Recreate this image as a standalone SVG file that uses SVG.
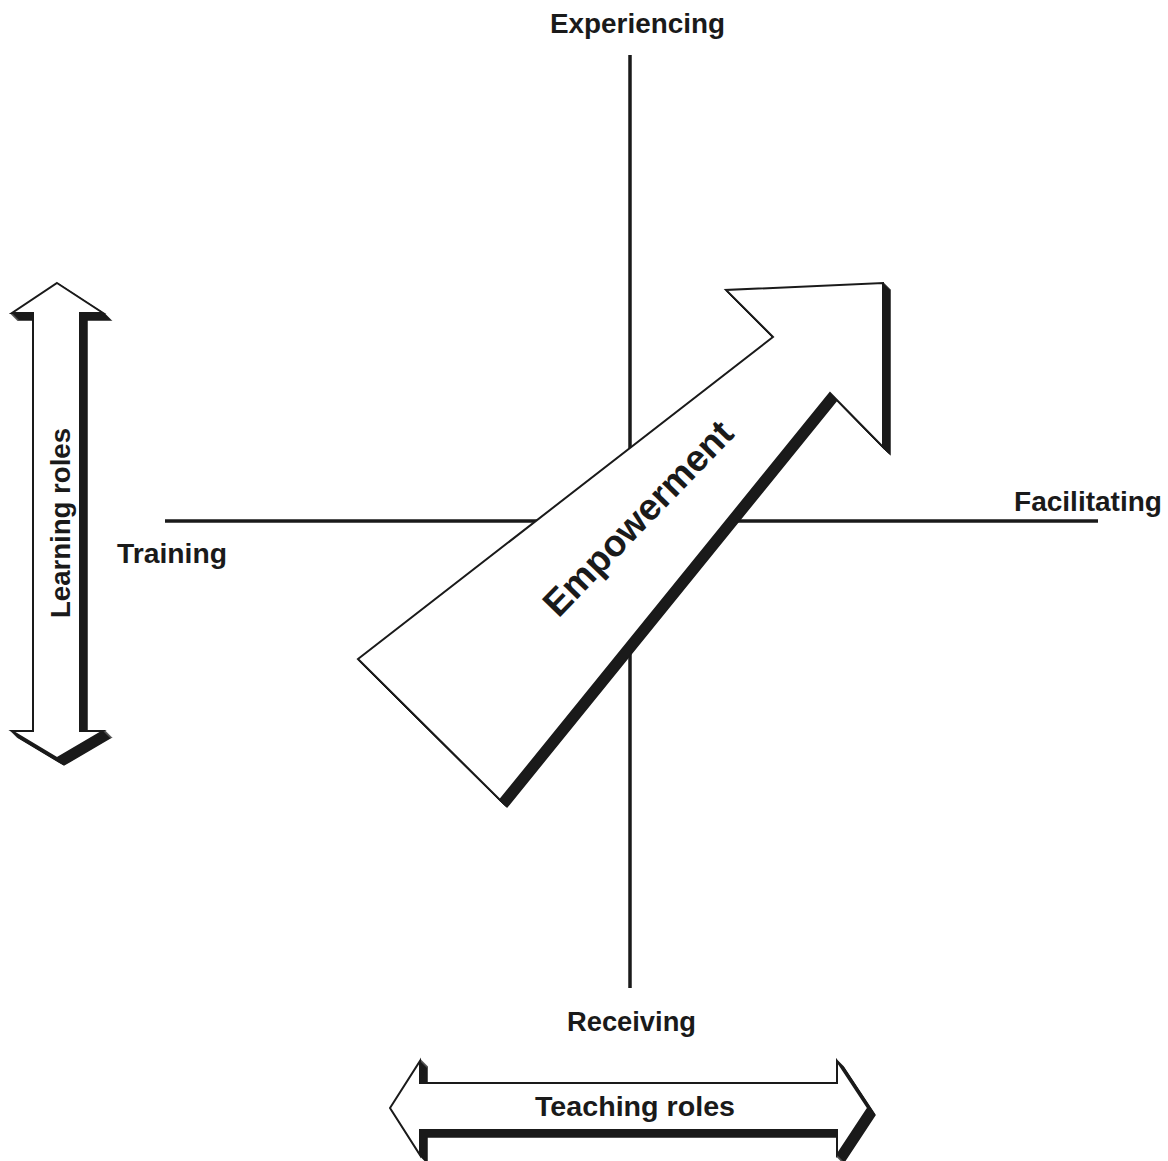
<svg xmlns="http://www.w3.org/2000/svg" xmlns:xlink="http://www.w3.org/1999/xlink" width="1168" height="1161" viewBox="0 0 1168 1161">
  <style>
    .axis { stroke: #1a1a1a; stroke-width: 3.5; fill: none; }
    .face { fill: #ffffff; stroke: #1a1a1a; stroke-width: 2; stroke-linejoin: miter; }
    .ext { fill: #1a1a1a; stroke: #1a1a1a; stroke-width: 1.5; }
    .lbl { font-family: "Liberation Sans", Arial, Helvetica, sans-serif; font-weight: bold; font-size: 27px; fill: #1a1a1a; }
    .emp { font-family: "Liberation Sans", Arial, Helvetica, sans-serif; font-weight: bold; font-size: 37px; fill: #1a1a1a; }
  </style>
  <defs>
    <polygon id="shapeV" points="57,283 103,313 80,313 80,731 103,731 57,758 12,731 33,731 33,313 12,313"/>
    <polygon id="shapeH" points="390,1108 420,1061 420,1083 837,1083 837,1061 868,1108 837,1155 837,1130 420,1130 420,1155"/>
    <polygon id="shapeE" points="358,659 773,337 726,290 883,283 883,447 830,393 500,800"/>
  </defs>
  <rect x="0" y="0" width="1168" height="1161" fill="#ffffff"/>

  <g id="axes">
    <line class="axis" x1="630" y1="55" x2="630" y2="988"/>
    <line class="axis" x1="165" y1="521" x2="1098" y2="521"/>
  </g>

  <g id="empowerment-arrow">
    <use xlink:href="#shapeE" class="ext" transform="translate(1,1)"/>
    <use xlink:href="#shapeE" class="ext" transform="translate(2,2)"/>
    <use xlink:href="#shapeE" class="ext" transform="translate(3,3)"/>
    <use xlink:href="#shapeE" class="ext" transform="translate(4,4)"/>
    <use xlink:href="#shapeE" class="ext" transform="translate(5,5)"/>
    <use xlink:href="#shapeE" class="ext" transform="translate(6,6)"/>
    <use xlink:href="#shapeE" class="ext" transform="translate(7,7)"/>
    <use xlink:href="#shapeE" class="face"/>
    <text class="emp" x="647" y="527" text-anchor="middle" textLength="255" lengthAdjust="spacingAndGlyphs" transform="rotate(-46 647 527)">Empowerment</text>
  </g>

  <g id="learning-roles">
    <use xlink:href="#shapeV" class="ext" transform="translate(1,1)"/>
    <use xlink:href="#shapeV" class="ext" transform="translate(2,2)"/>
    <use xlink:href="#shapeV" class="ext" transform="translate(3,3)"/>
    <use xlink:href="#shapeV" class="ext" transform="translate(4,4)"/>
    <use xlink:href="#shapeV" class="ext" transform="translate(5,5)"/>
    <use xlink:href="#shapeV" class="ext" transform="translate(6,6)"/>
    <use xlink:href="#shapeV" class="ext" transform="translate(7,7)"/>
    <use xlink:href="#shapeV" class="face"/>
    <text class="lbl" x="-523" y="70" text-anchor="middle" textLength="190" lengthAdjust="spacingAndGlyphs" transform="rotate(-90)">Learning roles</text>
  </g>

  <g id="teaching-roles">
    <use xlink:href="#shapeH" class="ext" transform="translate(1,1)"/>
    <use xlink:href="#shapeH" class="ext" transform="translate(2,2)"/>
    <use xlink:href="#shapeH" class="ext" transform="translate(3,3)"/>
    <use xlink:href="#shapeH" class="ext" transform="translate(4,4)"/>
    <use xlink:href="#shapeH" class="ext" transform="translate(5,5)"/>
    <use xlink:href="#shapeH" class="ext" transform="translate(6,6)"/>
    <use xlink:href="#shapeH" class="ext" transform="translate(7,7)"/>
    <use xlink:href="#shapeH" class="face"/>
    <text class="lbl" x="535" y="1116" textLength="200" lengthAdjust="spacingAndGlyphs">Teaching roles</text>
  </g>

  <g id="label-experiencing">
    <text class="lbl" x="550" y="33" textLength="175" lengthAdjust="spacingAndGlyphs">Experiencing</text>
  </g>
  <g id="label-training">
    <text class="lbl" x="117" y="563" textLength="110" lengthAdjust="spacingAndGlyphs">Training</text>
  </g>
  <g id="label-facilitating">
    <text class="lbl" x="1014" y="511" textLength="148" lengthAdjust="spacingAndGlyphs">Facilitating</text>
  </g>
  <g id="label-receiving">
    <text class="lbl" x="567" y="1031" textLength="129" lengthAdjust="spacingAndGlyphs">Receiving</text>
  </g>
</svg>
